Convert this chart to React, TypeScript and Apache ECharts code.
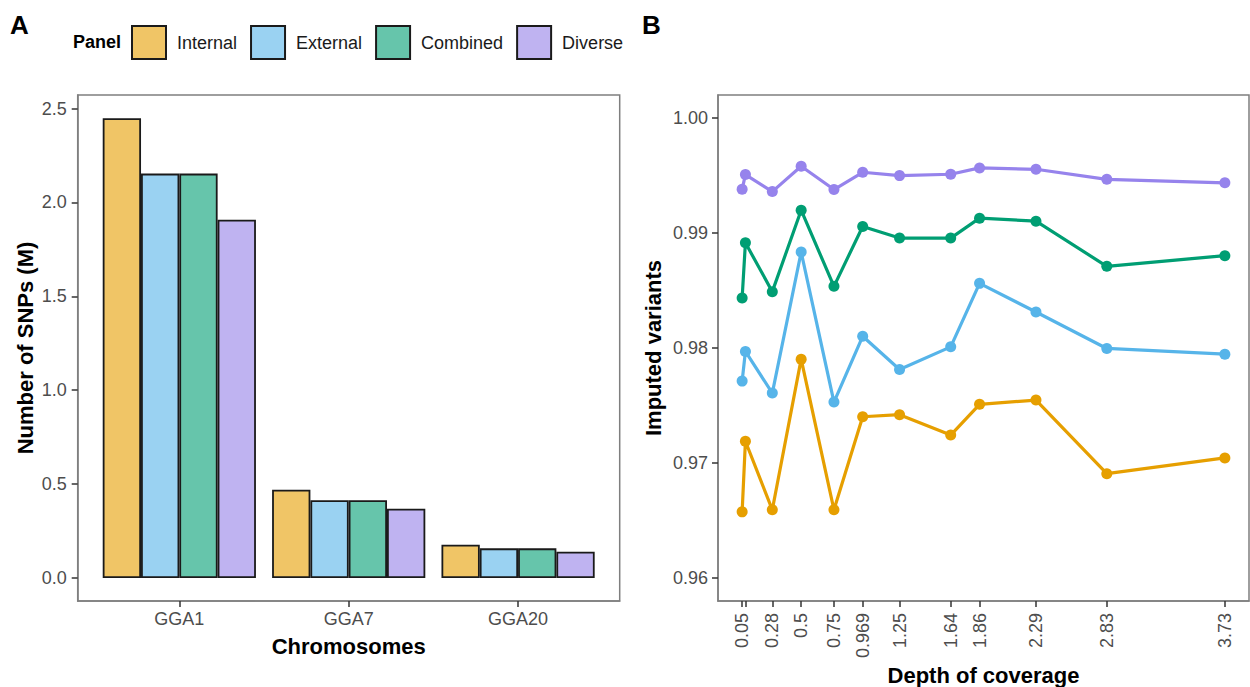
import React, { useEffect, useRef } from "react";
import * as echarts from "echarts";

// ---------- Panel A data ----------
const chromosomes = ["GGA1", "GGA7", "GGA20"];
const internalA = [2.449, 0.47, 0.177];
const externalA = [2.154, 0.414, 0.158];
const combinedA = [2.154, 0.414, 0.158];
const diverseA = [1.908, 0.369, 0.14];
const yTicksA = [0, 0.5, 1.0, 1.5, 2.0, 2.5];

// ---------- Panel B data ----------
const depth = [0.05, 0.075, 0.28, 0.5, 0.75, 0.969, 1.25, 1.64, 1.86, 2.29, 2.83, 3.73];
const depthLabels = [0.05, 0.28, 0.5, 0.75, 0.969, 1.25, 1.64, 1.86, 2.29, 2.83, 3.73];
const internalB = [0.96575, 0.97189, 0.96593, 0.97903, 0.96593, 0.97402, 0.9742, 0.97243, 0.9751, 0.97547, 0.96907, 0.97044];
const externalB = [0.97712, 0.9797, 0.97608, 0.98834, 0.9753, 0.98102, 0.97813, 0.9801, 0.98562, 0.98313, 0.97996, 0.97946];
const combinedB = [0.98435, 0.98915, 0.9849, 0.99198, 0.98536, 0.99057, 0.98956, 0.98956, 0.99129, 0.99103, 0.9871, 0.98803];
const diverseB = [0.9938, 0.99508, 0.9936, 0.9958, 0.99378, 0.99528, 0.99499, 0.99511, 0.99566, 0.99554, 0.99467, 0.99436];
const yTicksB = [0.96, 0.97, 0.98, 0.99, 1.0];

const panelNames = ["Internal", "External", "Combined", "Diverse"];
const lineColors = ["#E69F00", "#56B4E9", "#009E73", "#9683EC"];
const barColors = ["#F0C566", "#9AD2F2", "#66C5AB", "#BFB3F1"];

const FONT = '"Liberation Sans", Arial, Helvetica, sans-serif';

export default function App() {
  const ref = useRef<HTMLDivElement>(null);

  useEffect(() => {
    if (!ref.current) return;
    const chart = echarts.init(ref.current, undefined, { renderer: "svg" });

    const aValues = [internalA, externalA, combinedA, diverseA];
    const bValues = [internalB, externalB, combinedB, diverseB];

    const tickLabel = { color: "#4D4D4D", fontSize: 18, fontFamily: FONT };
    const axisLineStyle = { color: "#7F7F7F", width: 1.5 };
    const tickStyle = { color: "#333333", width: 1.5 };

    const barSeries = panelNames.map((name, k) => ({
      type: "bar",
      name,
      xAxisIndex: 0,
      yAxisIndex: 0,
      barWidth: 38.3,
      barGap: "0%",
      data: chromosomes.map((_, i) => [i + 1, aValues[k][i]]),
      itemStyle: { color: barColors[k], borderColor: "#1A1A1A", borderWidth: 1.8 },
    }));

    const lineSeries = panelNames.map((name, k) => ({
      type: "line",
      name,
      xAxisIndex: 1,
      yAxisIndex: 1,
      data: depth.map((d, i) => [d, bValues[k][i]]),
      symbol: "circle",
      symbolSize: 11,
      lineStyle: { color: lineColors[k], width: 3.2 },
      itemStyle: { color: lineColors[k] },
    }));

    const option: any = {
      animation: false,
      backgroundColor: "#FFFFFF",
      textStyle: { fontFamily: FONT },
      grid: [
        { left: 77.7, top: 95, width: 542, height: 506, show: true, borderColor: "#7F7F7F", borderWidth: 1.5, backgroundColor: "transparent" },
        { left: 718, top: 95, width: 531, height: 506, show: true, borderColor: "#7F7F7F", borderWidth: 1.5, backgroundColor: "transparent" },
      ],
      legend: {
        data: panelNames,
        left: 131,
        top: 25,
        padding: 0,
        itemWidth: 34,
        itemHeight: 33,
        itemGap: 13,
        icon: "rect",
        selectedMode: false,
        textStyle: { fontSize: 18, color: "#1A1A1A", fontFamily: FONT, padding: [0, 0, 0, 6] },
      },
      xAxis: [
        {
          type: "value",
          gridIndex: 0,
          min: 0.4,
          max: 3.6,
          splitLine: { show: false },
          axisLine: { show: true, onZero: false, lineStyle: axisLineStyle },
          axisTick: { show: true, length: 6, lineStyle: tickStyle, customValues: [1, 2, 3] },
          axisLabel: {
            ...tickLabel,
            margin: 9,
            customValues: [1, 2, 3],
            formatter: (v: number) => chromosomes[Math.round(v) - 1] ?? "",
          },
        },
        {
          type: "value",
          gridIndex: 1,
          min: -0.134,
          max: 3.914,
          splitLine: { show: false },
          axisLine: { show: true, onZero: false, lineStyle: axisLineStyle },
          axisTick: { show: true, length: 6, lineStyle: tickStyle, customValues: depth },
          axisLabel: {
            ...tickLabel,
            margin: 12,
            rotate: 90,
            customValues: depthLabels,
            formatter: (v: number) => String(v),
          },
        },
      ],
      yAxis: [
        {
          type: "value",
          gridIndex: 0,
          min: -0.1225,
          max: 2.5725,
          splitLine: { show: false },
          axisLine: { show: true, onZero: false, lineStyle: axisLineStyle },
          axisTick: { show: true, length: 6, lineStyle: tickStyle, customValues: yTicksA },
          axisLabel: { ...tickLabel, margin: 11, customValues: yTicksA, formatter: (v: number) => v.toFixed(1) },
        },
        {
          type: "value",
          gridIndex: 1,
          min: 0.958,
          max: 1.002,
          splitLine: { show: false },
          axisLine: { show: true, onZero: false, lineStyle: axisLineStyle },
          axisTick: { show: true, length: 6, lineStyle: tickStyle, customValues: yTicksB },
          axisLabel: { ...tickLabel, margin: 10, customValues: yTicksB, formatter: (v: number) => v.toFixed(2) },
        },
      ],
      graphic: [
        { type: "text", x: 10, y: 25, style: { text: "A", fill: "#000", font: `bold 26px ${FONT}`, align: "left", verticalAlign: "middle" } },
        { type: "text", x: 642, y: 25, style: { text: "B", fill: "#000", font: `bold 26px ${FONT}`, align: "left", verticalAlign: "middle" } },
        { type: "text", x: 73, y: 42, style: { text: "Panel", fill: "#000", font: `bold 18px ${FONT}`, align: "left", verticalAlign: "middle" } },
        { type: "text", x: 25, y: 348, rotation: Math.PI / 2, style: { text: "Number of SNPs (M)", fill: "#000", font: `bold 22px ${FONT}`, align: "center", verticalAlign: "middle" } },
        { type: "text", x: 348.7, y: 646, style: { text: "Chromosomes", fill: "#000", font: `bold 22px ${FONT}`, align: "center", verticalAlign: "middle" } },
        { type: "text", x: 653, y: 348, rotation: Math.PI / 2, style: { text: "Imputed variants", fill: "#000", font: `bold 22px ${FONT}`, align: "center", verticalAlign: "middle" } },
        { type: "text", x: 983.5, y: 675, style: { text: "Depth of coverage", fill: "#000", font: `bold 22px ${FONT}`, align: "center", verticalAlign: "middle" } },
      ],
      series: [...barSeries, ...lineSeries],
    };

    chart.setOption(option);
    return () => chart.dispose();
  }, []);

  return (
    <div
      ref={ref}
      style={{ position: "fixed", left: 0, top: 0, width: 1250, height: 687, background: "#fff" }}
    />
  );
}
